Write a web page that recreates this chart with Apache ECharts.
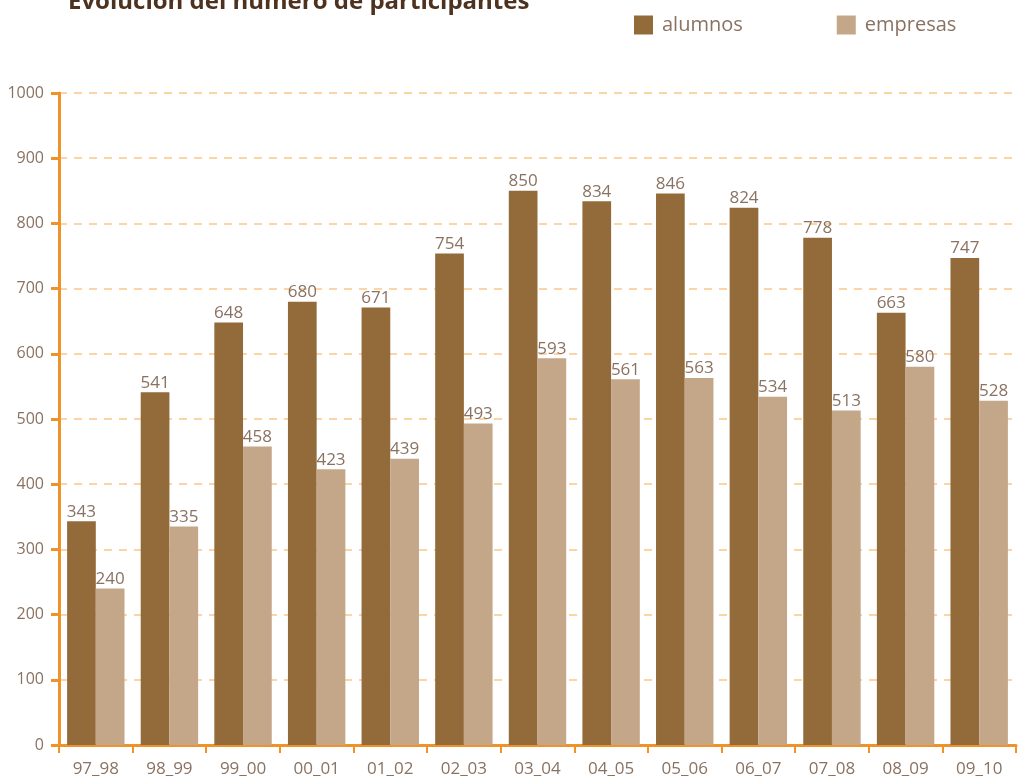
<!DOCTYPE html>
<html>
<head>
<meta charset="utf-8">
<script src="https://cdn.jsdelivr.net/npm/echarts@6/dist/echarts.min.js"></script>
<style>
html, body { margin: 0; padding: 0; background: #fff; }
#chart { width: 1022px; height: 778px; }
</style>
</head>
<body>
<div id="chart"></div>
<script>
var cursos = ['97_98', '98_99', '99_00', '00_01', '01_02', '02_03', '03_04', '04_05', '05_06', '06_07', '07_08', '08_09', '09_10'];
var alumnos = [343, 541, 648, 680, 671, 754, 850, 834, 846, 824, 778, 663, 747];
var empresas = [240, 335, 458, 423, 439, 493, 593, 561, 563, 534, 513, 580, 528];

var labelColor = '#8a7262';
var axisColor = '#f0922a';

var chart = echarts.init(document.getElementById('chart'));
var option = {
	animation: false,
	textStyle: {
		fontFamily: 'Open Sans'
	},
	title: {
		text: 'Evolución del número de participantes',
		left: 63,
		top: -15,
		textStyle: {
			color: '#4e3220',
			fontSize: 24,
			fontWeight: 'bold',
			fontFamily: 'Open Sans'
		}
	},
	legend: {
		data: ['alumnos', 'empresas'],
		left: 629,
		top: 10,
		itemWidth: 19,
		itemHeight: 19,
		itemGap: 94,
		icon: 'rect',
		textStyle: {
			color: labelColor,
			fontSize: 20,
			padding: [0, 0, 0, 4]
		}
	},
	grid: {
		left: 59,
		right: 6,
		top: 93,
		bottom: 33,
		containLabel: false
	},
	xAxis: {
		type: 'category',
		data: cursos,
		axisLine: {
			lineStyle: { color: axisColor, width: 3 }
		},
		axisTick: {
			show: true,
			length: 8,
			lineStyle: { color: axisColor, width: 2 }
		},
		axisLabel: {
			color: labelColor,
			fontSize: 17,
			margin: 16
		}
	},
	yAxis: {
		type: 'value',
		min: 0,
		max: 1000,
		interval: 100,
		axisLine: {
			show: true,
			lineStyle: { color: axisColor, width: 3 }
		},
		axisTick: {
			show: true,
			length: 8,
			lineStyle: { color: axisColor, width: 3 }
		},
		axisLabel: {
			color: labelColor,
			fontSize: 16,
			margin: 15,
			formatter: function (v) { return String(v); }
		},
		splitLine: {
			lineStyle: {
				color: '#fcc689',
				width: 1.5,
				type: [8, 7]
			}
		}
	},
	series: [{
		name: 'alumnos',
		type: 'bar',
		data: alumnos,
		barGap: '0%',
		barCategoryGap: '22%',
		itemStyle: { color: '#936b3a' },
		label: {
			show: true,
			position: 'top',
			distance: 1,
			color: labelColor,
			fontSize: 17
		}
	}, {
		name: 'empresas',
		type: 'bar',
		data: empresas,
		itemStyle: { color: '#c4a789' },
		label: {
			show: true,
			position: 'top',
			distance: 1,
			color: labelColor,
			fontSize: 17
		}
	}]
};
chart.setOption(option);
</script>
</body>
</html>
